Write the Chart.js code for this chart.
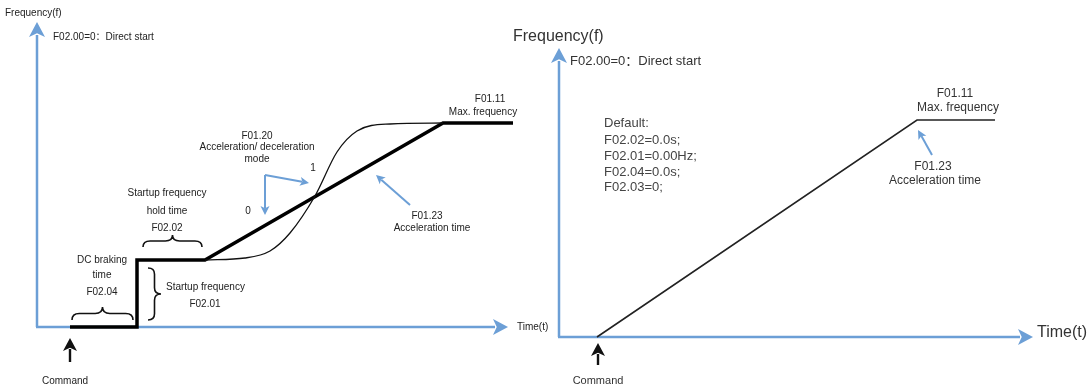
<!DOCTYPE html>
<html>
<meta name="viewport" content="width=device-width, initial-scale=1.0" />
<style>
	html, body {
		width: 100%;
		height: 100%;
		margin: 0;
		padding: 0;
		overflow: hidden;
		background: #fff;
	}
	#leftDiv {
		position: absolute;
		left: 0;
		top: 0;
		width: 560px;
		height: 389px;
	}
	#rightDiv {
		position: absolute;
		left: 505px;
		top: 0;
		width: 584px;
		height: 389px;
	}
</style>
<script src="https://cdn.jsdelivr.net/npm/chart.js"></script>
<script>

	// Left diagram: direct start with DC braking, hold frequency and S-curve
	var linearTime = [3.3, 10, 10, 16.8, 40.6, 47.6];
	var linearFreq = [0, 0, 6.7, 6.7, 20.4, 20.4];
	var sCurveTime = [16.8, 20.8, 23.3, 25.3, 27.8, 30, 32, 35.3, 40.6];
	var sCurveFreq = [6.7, 6.9, 7.6, 9.4, 13.1, 17.5, 19.6, 20.3, 20.4];

	// Right diagram: defaults, plain linear ramp
	var defaultTime = [3.8, 35.8, 43.6];
	var defaultFreq = [0, 21.7, 21.7];

	var defaultLines = ["Default:", "F02.02=0.0s;", "F02.01=0.00Hz;", "F02.04=0.0s;", "F02.03=0;"];

	var BLUE = '#6c9fd6';
	var FONT = '"Liberation Sans", Arial, "Noto Sans CJK SC", sans-serif';

	function toPoints(xs, ys) {
		var pts = [];
		for (var i = 0; i < xs.length; i++) {
			pts.push({x: xs[i], y: ys[i]});
		}
		return pts;
	}

	function arrow(ctx, x1, y1, x2, y2, color, width, len, half) {
		var a = Math.atan2(y2 - y1, x2 - x1);
		var bx = x2 - len * Math.cos(a), by = y2 - len * Math.sin(a);
		ctx.strokeStyle = color;
		ctx.fillStyle = color;
		ctx.lineWidth = width;
		ctx.beginPath();
		ctx.moveTo(x1, y1);
		ctx.lineTo(bx + 2 * Math.cos(a), by + 2 * Math.sin(a));
		ctx.stroke();
		ctx.beginPath();
		ctx.moveTo(x2, y2);
		ctx.lineTo(bx - half * Math.sin(a), by + half * Math.cos(a));
		ctx.lineTo(bx + len * 0.25 * Math.cos(a), by + len * 0.25 * Math.sin(a));
		ctx.lineTo(bx + half * Math.sin(a), by - half * Math.cos(a));
		ctx.closePath();
		ctx.fill();
	}

	// curly brace between two points, tip bulging sideways by "depth"
	function brace(ctx, x1, y1, x2, y2, depth) {
		var dx = x2 - x1, dy = y2 - y1;
		var L = Math.sqrt(dx * dx + dy * dy);
		var ux = dx / L, uy = dy / L;
		var nx = uy * depth, ny = -ux * depth;
		function p(t, k) { return [x1 + dx * t + nx * k, y1 + dy * t + ny * k]; }
		ctx.strokeStyle = '#111';
		ctx.lineWidth = 1.6;
		ctx.beginPath();
		var a = p(0, 0), b = p(0, 0.5), c = p(0.12, 0.5), d = p(0.38, 0.5), e = p(0.5, 0.5), f = p(0.5, 1);
		ctx.moveTo(a[0], a[1]);
		ctx.quadraticCurveTo(b[0], b[1], c[0], c[1]);
		ctx.lineTo(d[0], d[1]);
		ctx.quadraticCurveTo(e[0], e[1], f[0], f[1]);
		var b2 = p(1, 0.5), c2 = p(0.88, 0.5), d2 = p(0.62, 0.5), a2 = p(1, 0);
		ctx.quadraticCurveTo(e[0], e[1], d2[0], d2[1]);
		ctx.lineTo(c2[0], c2[1]);
		ctx.quadraticCurveTo(b2[0], b2[1], a2[0], a2[1]);
		ctx.stroke();
	}

	var diagramPlugin = {
		id: 'diagram',
		beforeDatasetsDraw: function (chart, args, opts) {
			var ctx = chart.ctx, sx = chart.scales.x, sy = chart.scales.y;
			var ox = sx.getPixelForValue(0), oy = sy.getPixelForValue(0);
			ctx.save();
			arrow(ctx, ox, oy, ox, sy.getPixelForValue(opts.yTip), BLUE, 2.5, 15, 8);
			arrow(ctx, ox - 1, oy, sx.getPixelForValue(opts.xTip), oy, BLUE, 2.5, 15, 8);
			ctx.restore();
		},
		afterDatasetsDraw: function (chart, args, opts) {
			var ctx = chart.ctx, sx = chart.scales.x, sy = chart.scales.y;
			function X(v) { return sx.getPixelForValue(v); }
			function Y(v) { return sy.getPixelForValue(v); }
			ctx.save();
			(opts.braces || []).forEach(function (b) {
				brace(ctx, X(b[0]), Y(b[1]), X(b[2]), Y(b[3]), b[4]);
			});
			(opts.arrows || []).forEach(function (a) {
				if (a.pts.length === 3) {
					arrow(ctx, X(a.pts[1][0]), Y(a.pts[1][1]), X(a.pts[0][0]), Y(a.pts[0][1]), a.color, a.width, a.len, a.half);
					arrow(ctx, X(a.pts[1][0]), Y(a.pts[1][1]), X(a.pts[2][0]), Y(a.pts[2][1]), a.color, a.width, a.len, a.half);
				} else {
					arrow(ctx, X(a.pts[0][0]), Y(a.pts[0][1]), X(a.pts[1][0]), Y(a.pts[1][1]), a.color, a.width, a.len, a.half);
				}
			});
			ctx.textBaseline = 'middle';
			(opts.labels || []).forEach(function (l) {
				ctx.font = l.size + 'px ' + FONT;
				ctx.fillStyle = l.color || '#222';
				ctx.textAlign = l.align || 'center';
				ctx.fillText(l.text, X(l.x), Y(l.y));
			});
			ctx.restore();
		}
	};

	function makeConfig(datasets, padding, xMax, yMax, diagram) {
		return {
			type: 'scatter',
			data: { datasets: datasets },
			plugins: [diagramPlugin],
			options: {
				responsive: true,
				maintainAspectRatio: false,
				animation: false,
				events: [],
				layout: { padding: padding },
				scales: {
					x: { type: 'linear', min: 0, max: xMax, display: false },
					y: { type: 'linear', min: 0, max: yMax, display: false }
				},
				plugins: {
					legend: { display: false },
					tooltip: { enabled: false },
					diagram: diagram
				}
			}
		};
	}

	window.onload = function () {

		var leftLabels = [
			{text: 'Frequency(f)', x: -3.2, y: 31.4, size: 10, align: 'left'},
			{text: 'F02.00=0：Direct start', x: 1.6, y: 29, size: 10, align: 'left'},
			{text: 'F01.20', x: 22, y: 19.1, size: 10},
			{text: 'Acceleration/ deceleration', x: 22, y: 18, size: 10},
			{text: 'mode', x: 22, y: 16.8, size: 10},
			{text: '1', x: 27.6, y: 15.9, size: 10},
			{text: '0', x: 21.1, y: 11.6, size: 10},
			{text: 'Startup frequency', x: 13, y: 13.4, size: 10},
			{text: 'hold time', x: 13, y: 11.6, size: 10},
			{text: 'F02.02', x: 13, y: 9.9, size: 10},
			{text: 'DC braking', x: 6.5, y: 6.7, size: 10},
			{text: 'time', x: 6.5, y: 5.2, size: 10},
			{text: 'F02.04', x: 6.5, y: 3.5, size: 10},
			{text: 'Startup frequency', x: 12.9, y: 4, size: 10, align: 'left'},
			{text: 'F02.01', x: 16.8, y: 2.3, size: 10},
			{text: 'F01.11', x: 45.3, y: 22.8, size: 10},
			{text: 'Max. frequency', x: 44.6, y: 21.5, size: 10},
			{text: 'F01.23', x: 39, y: 11.1, size: 10},
			{text: 'Acceleration time', x: 39.5, y: 9.9, size: 10},
			{text: 'Time(t)', x: 48, y: 0, size: 10, align: 'left'},
			{text: 'Command', x: 2.8, y: -5.4, size: 10}
		];

		var rightLabels = [
			{text: 'Frequency(f)', x: -4.6, y: 30, size: 16, align: 'left', color: '#333'},
			{text: 'F02.00=0：Direct start', x: 1.1, y: 27.6, size: 13, align: 'left', color: '#333'},
			{text: 'F01.11', x: 39.6, y: 24.3, size: 12, color: '#333'},
			{text: 'Max. frequency', x: 39.9, y: 22.9, size: 12, color: '#333'},
			{text: 'F01.23', x: 37.4, y: 17, size: 12, color: '#333'},
			{text: 'Acceleration time', x: 37.6, y: 15.6, size: 12, color: '#333'},
			{text: 'Time(t)', x: 47.8, y: 0.4, size: 16, align: 'left', color: '#333'},
			{text: 'Command', x: 3.9, y: -4.4, size: 11, color: '#333'}
		];
		var defaultY = [21.4, 19.7, 18.1, 16.5, 15];
		for (var i = 0; i < defaultLines.length; i++) {
			rightLabels.push({text: defaultLines[i], x: 4.5, y: defaultY[i], size: 13, align: 'left', color: '#444'});
		}

		new Chart(document.getElementById('leftChart'), makeConfig([
			{
				type: 'line',
				data: toPoints(sCurveTime, sCurveFreq),
				borderColor: '#111',
				borderWidth: 1.3,
				pointRadius: 0,
				cubicInterpolationMode: 'monotone',
				clip: false
			},
			{
				type: 'line',
				data: toPoints(linearTime, linearFreq),
				borderColor: '#000',
				borderWidth: 3.5,
				pointRadius: 0,
				tension: 0,
				clip: false
			}
		], {left: 37, right: 23, top: 22, bottom: 62}, 50, 30.5, {
			xTip: 47.1,
			yTip: 30.5,
			labels: leftLabels,
			braces: [
				[10.6, 8, 16.5, 8, 12],
				[3.5, 0.7, 9.6, 0.7, 13],
				[11.1, 5.9, 11.1, 0.7, 13]
			],
			arrows: [
				{pts: [[22.8, 11.2], [22.8, 15.2], [27.2, 14.4]], color: BLUE, width: 2, len: 9, half: 4.5},
				{pts: [[37.3, 12.2], [33.9, 15.2]], color: BLUE, width: 2, len: 9, half: 4.5},
				{pts: [[3.3, -3.5], [3.3, -1.1]], color: '#111', width: 2.4, len: 13, half: 7}
			]
		}));

		new Chart(document.getElementById('rightChart'), makeConfig([
			{
				type: 'line',
				data: toPoints(defaultTime, defaultFreq),
				borderColor: '#222',
				borderWidth: 1.6,
				pointRadius: 0,
				tension: 0,
				clip: false
			}
		], {left: 54, right: 0, top: 37, bottom: 52}, 53, 30, {
			xTip: 47.4,
			yTip: 28.9,
			labels: rightLabels,
			arrows: [
				{pts: [[37.3, 18.2], [35.9, 20.7]], color: BLUE, width: 2, len: 9, half: 4.5},
				{pts: [[3.9, -2.8], [3.9, -0.6]], color: '#111', width: 2.4, len: 13, half: 7}
			]
		}));
	};

</script>
<body>
	<div id="leftDiv"><canvas id="leftChart"></canvas></div>
	<div id="rightDiv"><canvas id="rightChart"></canvas></div>
</body>
</html>
